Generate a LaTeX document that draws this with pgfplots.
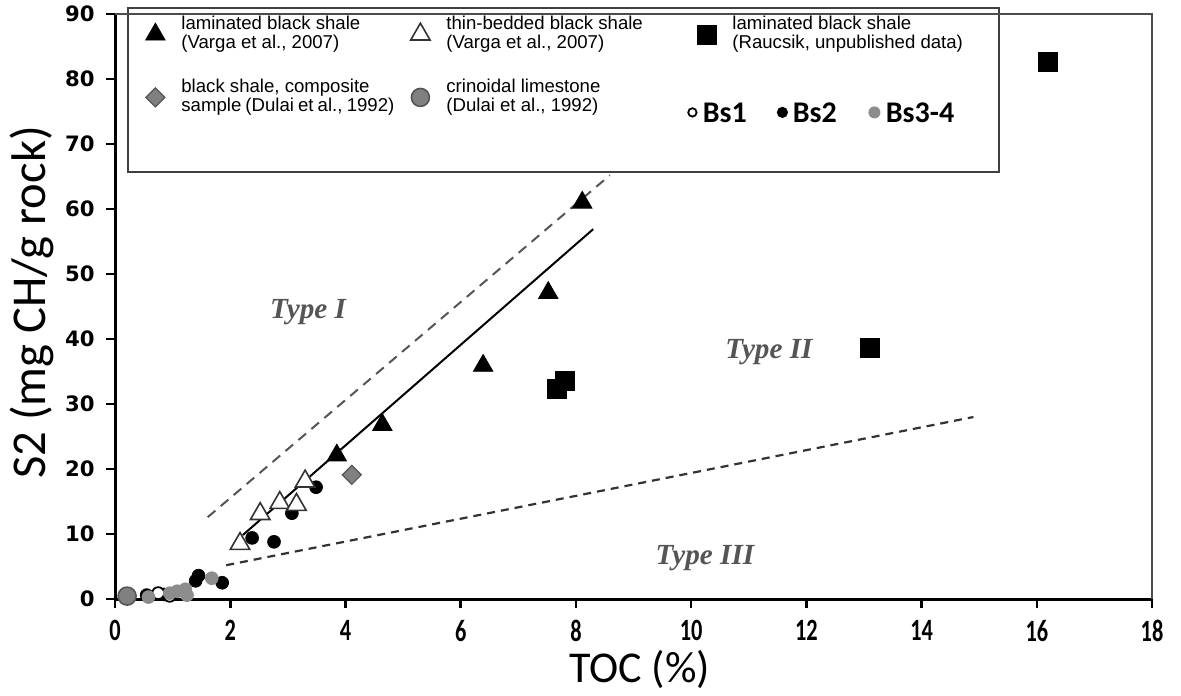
\documentclass[border=0pt]{standalone}
\usepackage{fontspec}
\setmainfont{Liberation Sans}
\newfontfamily\ytickfont{DejaVu Sans}
\newfontfamily\xtickfont[FakeStretch=0.72]{Carlito}
\newfontfamily\calfont{Carlito}
\newfontfamily\typefont{Liberation Serif}
\usepackage{pgfplots}
\pgfplotsset{compat=1.18}
\definecolor{mgray}{HTML}{808080}
\definecolor{dgray}{HTML}{555555}
\definecolor{bsgray}{HTML}{8C8C8C}
\pgfplotsset{
  myleg/.style={legend image code/.code={\path[draw=none, fill=none] (-13pt,-5pt) rectangle (13pt,5pt); \draw[##1] plot coordinates {(0pt,0pt)};}}
}
\begin{document}
\begin{tikzpicture}
\begin{axis}[
  scale only axis, width=518.5pt, height=292.5pt,
  xmin=0, xmax=18, ymin=0, ymax=90,
  xtick={0,2,...,18}, ytick={0,10,...,90},
  axis x line*=bottom, axis y line*=left,
  axis line style={line width=1.5pt, -},
  tick align=outside, major tick length=4.5pt,
  tick style={line width=1.3pt, black},
  /pgf/number format/assume math mode=true,
  xticklabel style={font=\xtickfont\bfseries\fontsize{15.5}{16}\selectfont, inner sep=0pt, anchor=north, yshift=-6pt},
  yticklabel style={font=\ytickfont\bfseries\fontsize{10.6}{12}\selectfont, inner sep=0pt, anchor=east, xshift=-5.5pt},
  xlabel={TOC (\%)},
  ylabel={S2 (mg CH/g rock)},
  xlabel style={font=\calfont\fontsize{22}{24}\selectfont, at={(axis description cs:0.506,-0.121)}, anchor=center},
  ylabel style={font=\calfont\fontsize{24.3}{26}\selectfont, at={(axis description cs:-0.080,0.507)}, anchor=center},
  clip=false,
  legend columns=3,
  legend cell align=left,
  legend style={at={(axis cs:0.243,90)}, anchor=north west, draw=none, fill=none,
    inner sep=0pt, column sep=0pt, row sep=11.5pt,
    nodes={inner sep=0pt, text depth=},
    font=\fontsize{9.3}{9.7}\selectfont},
]
% boundary lines
\addplot[forget plot, dgray, line width=1pt, dash pattern=on 5pt off 3.5pt] coordinates {(1.61,12.6) (8.59,65.2)};
\addplot[forget plot, black, line width=1pt] coordinates {(2.22,9.85) (8.30,56.9)};
\addplot[forget plot, black!80, line width=1.1pt, dash pattern=on 4pt off 3pt] coordinates {(1.93,5.2) (14.9,28.0)};
% Bs samples
\addplot[forget plot, only marks, mark=*, mark size=3.2pt, mark options={fill=black, draw=black}] coordinates {
 (0.55,0.6) (0.85,0.7) (1.40,2.8) (1.45,3.6) (1.86,2.5) (2.38,9.4) (2.76,8.8) (3.07,13.2) (3.49,17.2)};
\addplot[forget plot, only marks, mark=*, mark size=3.0pt, mark options={fill=white, draw=black, line width=0.9pt}] coordinates {
 (0.75,0.9) (0.95,0.5)};
\addplot[forget plot, only marks, mark=*, mark size=3.2pt, mark options={fill=bsgray, draw=bsgray}] coordinates {
 (0.58,0.3) (0.95,0.9) (1.08,1.2) (1.22,1.5) (1.25,0.6) (1.68,3.2)};
% legend box
\draw[black!75, line width=0.8pt, fill=white] (axis cs:0.226,90.92) rectangle (axis cs:15.344,65.69);
\draw[black!70, line width=0.9pt] (rel axis cs:0,1) -- (rel axis cs:1,1) -- (rel axis cs:1,0);
% literature data
\addplot[only marks, mark=triangle*, mark size=5.6pt, mark options={fill=black, draw=black}, myleg] coordinates {
 (8.11,61.0) (7.52,47.1) (6.39,35.9) (4.64,26.8) (3.85,22.1)};
\addlegendentry{\parbox[c][20pt][c]{106.5pt}{laminated black shale\\(Varga et al., 2007)}}
\addplot[only marks, mark=triangle*, mark size=5.6pt, mark options={fill=white, draw=black!80, line width=0.8pt}, myleg] coordinates {
 (2.17,8.5) (2.52,13.1) (2.86,14.8) (3.15,14.5) (3.30,18.1)};
\addlegendentry{\parbox[c][20pt][c]{117pt}{thin-bedded black shale\\(Varga et al., 2007)}}
\addplot[only marks, mark=square*, mark size=4.75pt, mark options={fill=black, draw=black}, myleg] coordinates {
 (16.19,82.7) (13.11,38.6) (7.67,32.3) (7.81,33.5)};
\addlegendentry{\parbox[c][20pt][c]{130pt}{laminated black shale\\(Raucsik, unpublished data)}}
\addplot[only marks, mark=square*, mark size=3.35pt, mark options={rotate=45, fill=mgray, draw=dgray, line width=0.6pt}, myleg] coordinates {
 (4.11,19.1)};
\addlegendentry{\parbox[c][20pt][c]{106.5pt}{black shale, composite\\sample (Dulai et al., 1992)}}
\addplot[only marks, mark=*, mark size=4.5pt, mark options={fill=mgray, draw=dgray, line width=0.8pt}, myleg] coordinates {
 (0.21,0.45)};
\addlegendentry{\parbox[c][20pt][c]{117pt}{crinoidal limestone\\(Dulai et al., 1992)}}
\addlegendimage{legend image code/.code={
  \path[draw=none, fill=none] (-13pt,-5pt) rectangle (13pt,5pt);
  \draw[overlay, black, line width=0.9pt, fill=white] (-7pt,-7.5pt) circle (2.1pt);
  \node[overlay, anchor=west, inner sep=0pt, font=\calfont\bfseries\fontsize{15}{15}\selectfont] at (-2pt,-7.5pt) {Bs1};
  \fill[overlay, black, draw=none] (38pt,-7.5pt) circle (2.8pt);
  \node[overlay, anchor=west, inner sep=0pt, font=\calfont\bfseries\fontsize{15}{15}\selectfont] at (43pt,-7.5pt) {Bs2};
  \fill[overlay, bsgray, draw=none] (84pt,-7.5pt) circle (3pt);
  \node[overlay, anchor=west, inner sep=0pt, font=\calfont\bfseries\fontsize{15}{15}\selectfont] at (89.5pt,-7.5pt) {Bs3-4};
}}
\addlegendentry{\parbox[c][20pt][c]{10pt}{}}
% type labels
\node[font=\typefont\bfseries\itshape\fontsize{14.6}{16}\selectfont, text=dgray] at (axis cs:3.35,44.2) {Type I};
\node[font=\typefont\bfseries\itshape\fontsize{14.6}{16}\selectfont, text=dgray] at (axis cs:11.35,38.0) {Type II};
\node[font=\typefont\bfseries\itshape\fontsize{14.6}{16}\selectfont, text=dgray] at (axis cs:10.24,6.3) {Type III};
\coordinate (pbl) at (axis cs:-1.9962,-14.769);
\coordinate (ptr) at (axis cs:18.503,92.154);
\end{axis}
\pgfresetboundingbox
\path (pbl) rectangle (ptr);
\end{tikzpicture}
\end{document}
